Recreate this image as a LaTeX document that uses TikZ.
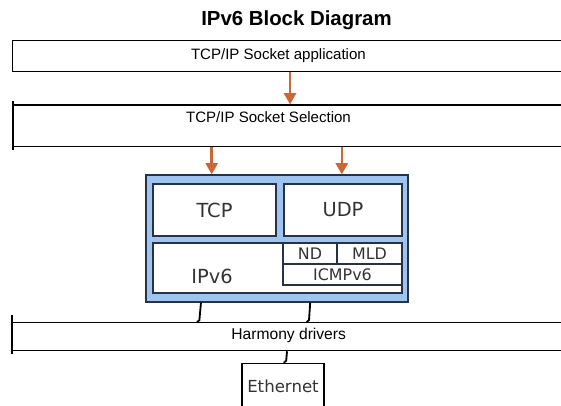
\documentclass[tikz,border=0pt]{standalone}
\usepackage{fontspec}
\setmainfont{Liberation Sans}
\newfontfamily\boxfont{DejaVu Sans}
\usetikzlibrary{arrows.meta}

\definecolor{flowarrow}{RGB}{204,102,51}
\definecolor{stackblue}{RGB}{160,196,240}
\definecolor{stackline}{RGB}{40,50,70}

\begin{document}
\begin{tikzpicture}[x=0.025cm, y=-0.025cm,
	layer/.style={draw, line width=0.8pt, inner sep=0pt},
	caption/.style={font=\fontsize{10.7}{12}\selectfont},
	block/.style={draw=stackline, fill=white, line width=0.8pt, inner sep=0pt, text=black!80, font=\boxfont\fontsize{13.8}{15}\selectfont},
	small/.style={block, font=\boxfont\fontsize{11.3}{13}\selectfont},
	flow/.style={draw=flowarrow, line width=1.8pt, -{Triangle[width=8.5pt,length=8pt]}},
	link/.style={line width=1.3pt},
	edge/.style={line width=1.6pt}]

		\useasboundingbox (0,0) rectangle (561,406);
		\clip (0,0) rectangle (561,406);

		\node[font=\bfseries\fontsize{14.5}{17}\selectfont] (title) at (296.5,20) {IPv6 Block Diagram};

		\node[layer, minimum width=13.94cm, minimum height=0.775cm] (app) at (291.25,56.2) {};
		\node[caption] (apptext) at (278.4,56) {TCP/IP Socket application};
		\node[layer, minimum width=13.9cm, minimum height=1.04cm] (sel) at (292,125.85) {};
		\node[caption] (seltext) at (268.5,117.5) {TCP/IP Socket Selection};
		\draw[edge] ([yshift=0.08cm]sel.north west) -- ([yshift=-0.08cm]sel.south west);

		\node[draw=stackline, fill=stackblue, line width=0.8pt, minimum width=6.55cm, minimum height=3.175cm] (stack) at (277,238.5) {};
		\node[block, minimum width=3.075cm, minimum height=1.3cm] (tcp) at (214.5,210) {TCP};
		\node[block, minimum width=2.95cm, minimum height=1.3cm] (udp) at (343,210) {UDP};
		\node[block, minimum width=6.225cm, minimum height=1.25cm] (ipv6) at (277.5,268) {};
		\node[text=black!80, font=\boxfont\fontsize{13.8}{15}\selectfont] (ipv6text) at (212,276) {IPv6};
		\node[small, minimum width=1.35cm, minimum height=0.525cm] (nd) at (310,253.5) {ND};
		\node[small, minimum width=1.625cm, minimum height=0.525cm] (mld) at (369.5,253.5) {MLD};
		\node[small, minimum width=2.975cm, minimum height=0.525cm] (icmp) at (342.5,274.5) {ICMPv6};

		\node[layer, minimum width=13.925cm, minimum height=0.7cm] (drv) at (291.5,336.7) {};
		\node[caption, font=\fontsize{11.1}{12}\selectfont] (drvtext) at (288.7,335) {Harmony drivers};
		\draw[edge] ([yshift=0.17cm]drv.north west) -- ([yshift=-0.06cm]drv.south west);
		\node[block, draw=black, minimum width=2.05cm, minimum height=1.1675cm, font=\boxfont\fontsize{11.8}{13}\selectfont] (eth) at (283,386.65) {Ethernet};

		\draw[flow] ([xshift=-0.03cm]app.south) -- ([xshift=-0.03cm]app.south |- sel.north);
		\draw[flow] ([xshift=-0.07cm]sel.south -| tcp) -- ([xshift=-0.07cm]tcp |- stack.north);
		\draw[flow] ([xshift=-0.03cm]sel.south -| udp) -- ([xshift=-0.03cm]udp |- stack.north);

		\draw[link] ([xshift=-1.9cm]stack.south) -- ([xshift=-1.94cm,yshift=0.05cm]stack.south |- drv.north) -- ([xshift=-2cm]stack.south |- drv.north);
		\draw[link] ([xshift=0.83cm]stack.south) -- ([xshift=0.8cm,yshift=0.05cm]stack.south |- drv.north) -- ([xshift=0.74cm]stack.south |- drv.north);
		\draw[link] ([xshift=0.1cm]eth.north |- drv.south) -- ([xshift=0.08cm,yshift=0.05cm]eth.north) -- ([xshift=0.02cm]eth.north);

	\end{tikzpicture}
\end{document}
